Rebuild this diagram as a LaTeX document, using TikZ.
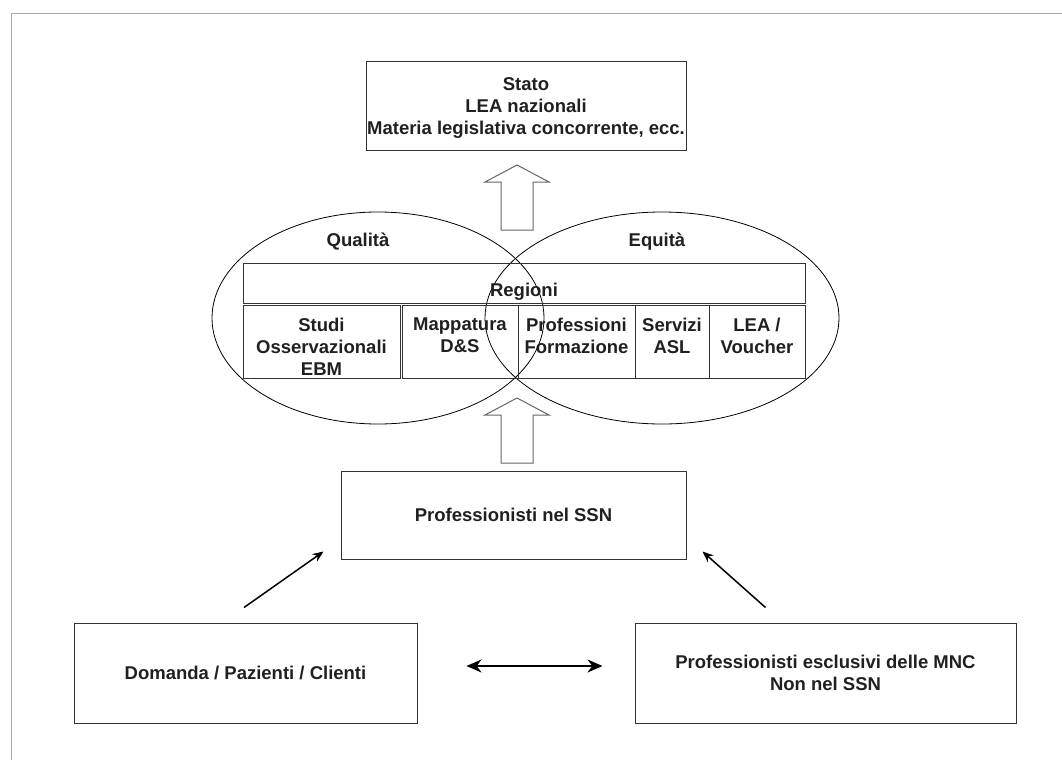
\documentclass[tikz,border=0pt]{standalone}
\usepackage{fontspec}
\setmainfont{Liberation Sans}
\usetikzlibrary{arrows.meta,calc,positioning}
\definecolor{darkline}{rgb}{0.2,0.2,0.2}
\definecolor{textgray}{rgb}{0.13,0.12,0.12}
\tikzset{
  box/.style={draw=darkline, line width=1pt, inner sep=0pt, align=center,
    font=\bfseries\fontsize{18.5}{22}\selectfont, text=textgray},
  lbl/.style={inner sep=0pt, align=center,
    font=\bfseries\fontsize{18.5}{22}\selectfont, text=textgray},
  hollow/.style={draw=black!60, line width=1pt, fill=white},
  thinarrow/.style={-{Stealth[length=11pt,width=9pt]}, line width=1.5pt},
}

\begin{document}
\begin{tikzpicture}[x=1pt,y=-1pt]
        \useasboundingbox (0,0) rectangle (1062,760);
        %Frame
        \draw[gray!70, line width=1pt] (11,760) -- (11,14) -- (1062,14);
        %Ellipses
        \draw[line width=0.8pt] (378,318) ellipse [x radius=166pt, y radius=106pt];
        \draw[line width=0.8pt] (662,318) ellipse [x radius=177pt, y radius=106pt];
        \node[lbl] (qualita) at (358,242) {Qualità};
        \node[lbl] (equita) at (657,242) {Equità};
        %Boxes
        \node[box, text depth=0pt, minimum width=320pt, minimum height=88pt] (stato) at (526,106)
          {Stato\\LEA nazionali\\Materia legislativa concorrente, ecc.};
        \node[box, minimum width=562pt, minimum height=40pt] (regioni) at (524,283) {};
        \node[lbl] (regionilbl) at (524,292) {Regioni};
        \node[box, minimum width=157pt, minimum height=73pt] (studi) at (321.5,341.5) {};
        \node[box, minimum width=116pt, minimum height=73pt] (mappa) at (460,341.5) {};
        \node[box, minimum width=117pt, minimum height=73pt] (profform) at (576.5,341.5) {};
        \node[box, minimum width=74pt, minimum height=73pt] (servizi) at (672,341.5) {};
        \node[box, minimum width=96pt, minimum height=73pt] (lea) at (757,341.5) {};
        \node[lbl, anchor=north] (studilbl) at (321.5,318) {Studi\\Osservazionali\\EBM};
        \node[lbl, anchor=north] (mappalbl) at (460,318) {Mappatura\\D\&S};
        \node[lbl, anchor=north] (profformlbl) at (576.5,318) {Professioni\\Formazione};
        \node[lbl, anchor=north] (servizilbl) at (672,318) {Servizi\\ASL};
        \node[lbl, anchor=north] (lealbl) at (757,318) {LEA /\\Voucher};
        \node[box, minimum width=345pt, minimum height=88pt] (prof) at (513.5,515)
          {Professionisti nel SSN};
        \node[box, minimum width=343pt, minimum height=100pt] (domanda) at (245.5,673)
          {Domanda / Pazienti / Clienti};
        \node[box, minimum width=381pt, minimum height=100pt] (mnc) at (825.5,673)
          {Professionisti esclusivi delle MNC\\Non nel SSN};
        %Hollow arrows
        \coordinate (tipA) at (517,165);
        \coordinate (tipB) at (517,398);
        \draw[hollow] (tipA) -- ++(32,17) -- ++(-16,0) -- ++(0,48) -- ++(-32,0)
          -- ++(0,-48) -- ++(-16,0) -- cycle;
        \draw[hollow] (tipB) -- ++(32,17) -- ++(-16,0) -- ++(0,48) -- ++(-32,0)
          -- ++(0,-48) -- ++(-16,0) -- cycle;
        %Arrows
        \draw[thinarrow] ($(domanda.north)+(-1.5,-15)$) -- ($(prof.south west)+(-17,-8)$);
        \draw[thinarrow] ($(mnc.north west)+(131,-15)$) -- ($(prof.south east)+(16,-8)$);
        \draw[{Stealth[length=15pt,width=13pt]}-{Stealth[length=15pt,width=13pt]}, line width=1.5pt]
          ($(domanda.east)+(49,-7)$) -- ($(mnc.west)+(-32,-7)$);
      \end{tikzpicture}
\end{document}
